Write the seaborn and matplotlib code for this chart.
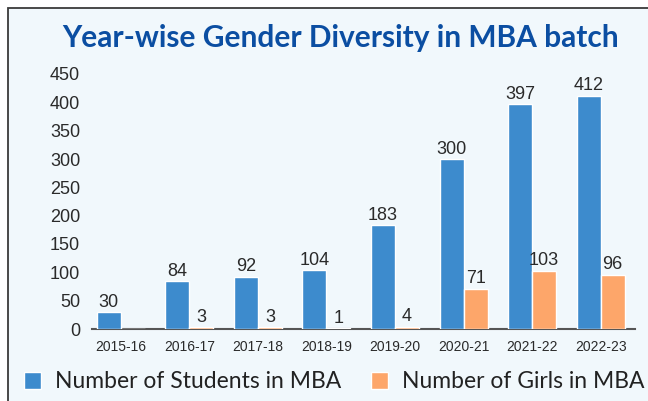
import numpy as np
import pandas as pd
import matplotlib
matplotlib.use('Agg')
import matplotlib.pyplot as plt
import seaborn as sns
from matplotlib.patches import Rectangle, Patch

# Dados
anos = ['2015-16', '2016-17', '2017-18', '2018-19', '2019-20', '2020-21', '2021-22', '2022-23']
alunos = [30, 84, 92, 104, 183, 300, 397, 412]
meninas = [0, 3, 3, 1, 4, 71, 103, 96]
series = ['Number of Students in MBA', 'Number of Girls in MBA']
yticks = [0, 50, 100, 150, 200, 250, 300, 350, 400, 450]

COR_AZUL = '#3d8bcd'
COR_LARANJA = '#fda66a'
COR_FUNDO = '#f1f8fc'

df = pd.DataFrame({
    'ano': anos * 2,
    'valor': alunos + meninas,
    'serie': [series[0]] * len(anos) + [series[1]] * len(anos),
})

sns.set_style('white')
plt.rcParams['font.family'] = ['Liberation Sans', 'DejaVu Sans']

fig = plt.figure(figsize=(6.48, 4.01), dpi=100)
fig.patch.set_facecolor('white')
# moldura com fundo azul claro (borda so em cima e a esquerda)
fig.patches.append(Rectangle((8 / 648, -0.5), 2.0, 1.5 - 8 / 401, transform=fig.transFigure,
                             facecolor=COR_FUNDO, edgecolor='#3a3a3a', linewidth=1.3, zorder=-5))

ax = fig.add_axes([92 / 648, 1 - 329 / 401, 543 / 648, 255 / 401])
ax.set_facecolor('none')
ax.set_zorder(2)

sns.barplot(data=df, x='ano', y='valor', hue='serie', order=anos, hue_order=series,
            palette=[COR_AZUL, COR_LARANJA], width=0.7, saturation=1, ax=ax, legend=False,
            zorder=3)

for cont, vals in zip(ax.containers, [alunos, meninas]):
    rot = ['' if v == 0 else str(v) for v in vals]
    ax.bar_label(cont, labels=rot, padding=1, fontsize=13, color='#2a2a2a')

ax.set_ylim(0, 450)
ax.set_xlim(-0.42, 7.5)
ax.set_yticks(yticks)
ax.set_yticklabels([str(t) for t in yticks], fontsize=13, color='#2a2a2a')
ax.tick_params(axis='y', length=0, pad=8.5)
ax.tick_params(axis='x', length=0, pad=8, labelsize=10, labelcolor='#2a2a2a')
ax.set_xlabel('')
ax.set_ylabel('')
for lado in ['top', 'right', 'left']:
    ax.spines[lado].set_visible(False)
ax.spines['bottom'].set_color('#555555')
ax.spines['bottom'].set_linewidth(1.5)
ax.spines['bottom'].set_zorder(1)

fig.text(0.525, 1 - 38 / 401, 'Year-wise Gender Diversity in MBA batch', ha='center', va='center',
         fontsize=21.5, fontweight='bold', color='#0b4ea2', family=['Lato', 'DejaVu Sans'])

# legenda
alcas = [Patch(facecolor=COR_AZUL), Patch(facecolor=COR_LARANJA)]
leg = fig.legend(alcas, series, loc='center left', bbox_to_anchor=(24 / 648, 1 - 382 / 401), ncol=2,
                 frameon=False, borderpad=0, borderaxespad=0, handlelength=0.75, handleheight=0.75,
                 handletextpad=0.6, columnspacing=1.3,
                 prop={'family': ['Lato', 'DejaVu Sans'], 'size': 16.5})
for t in leg.get_texts():
    t.set_color('#222222')

fig.savefig('out.png', dpi=100, facecolor=fig.get_facecolor())
